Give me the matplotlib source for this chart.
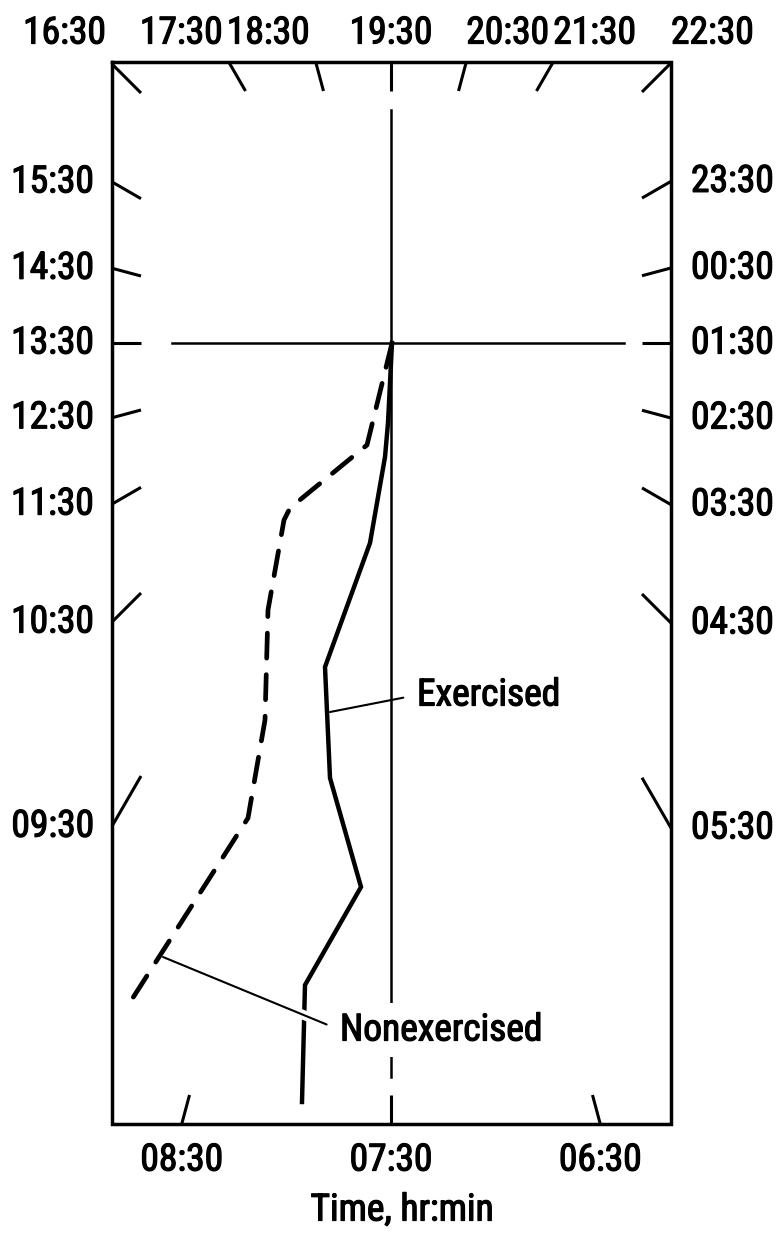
import matplotlib
matplotlib.use("Agg")
import matplotlib.pyplot as plt
import matplotlib.patheffects as pe
from matplotlib import font_manager as fm
import numpy as np

# one label per hour round the frame (24 h clock, 15 deg per hour)
hour_labels = ["00:30", "01:30", "02:30", "03:30", "04:30", "05:30",
               "06:30", "07:30", "08:30", "09:30", "10:30", "11:30",
               "12:30", "13:30", "14:30", "15:30", "16:30", "17:30",
               "18:30", "19:30", "20:30", "21:30", "22:30", "23:30"]

# curves: offset from the 13:30 / 19:30 crossing (x right, y up)
exercised_x = [1, -3, -6, -21, -66, -61, -30, -86, -89]
exercised_y = [0, -80, -114, -200, -324, -435, -544, -642, -759]
nonexercised_x = [1, -24, -101, -107, -123, -126, -143, -264]
nonexercised_y = [0, -102, -165, -177, -267, -377, -475, -664]

# frame (same units), relative to the crossing
L, R, T, B = -279, 280, 281, -781
INSET = 29


def _pick_font():
    names = {f.name for f in fm.fontManager.ttflist}
    for fam in ("Liberation Sans Narrow", "Roboto Condensed", "Open Sans Condensed",
                "Noto Sans Condensed", "DejaVu Sans Condensed"):
        if fam in names:
            return fm.FontProperties(family=fam, size=27)
    for f in fm.fontManager.ttflist:
        if f.stretch in ("condensed", "semi-condensed") and f.style == "normal" \
                and f.weight in (400, "normal", "regular") and "CJK" not in f.name:
            return fm.FontProperties(fname=f.fname, size=27)
    return fm.FontProperties(family="Liberation Sans", size=23)


def _hit(dx, dy, l, r, t, b):
    ts = []
    if dx < -1e-9:
        ts.append(l / dx)
    if dx > 1e-9:
        ts.append(r / dx)
    if dy > 1e-9:
        ts.append(t / dy)
    if dy < -1e-9:
        ts.append(b / dy)
    k = min(ts)
    return k * dx, k * dy


font = _pick_font()
heavy = [pe.withStroke(linewidth=0.9, foreground="black")]

fig = plt.figure(figsize=(7.8, 12.34), dpi=100)
ax = fig.add_axes([0, 0, 1, 1])
ax.set_xlim(-391, 389)
ax.set_ylim(-891, 343)
ax.axis("off")

# frame
ax.plot([L, R, R, L, L], [T, T, B, B, T], color="black", lw=2.5,
        solid_joinstyle="miter", zorder=3)

# hour ticks point to the centre, labels outside
for lab in hour_labels:
    h = int(lab[:2]) + int(lab[3:]) / 60
    th = np.radians((h - 7.5) * 15)
    dx, dy = -np.sin(th), -np.cos(th)
    ox, oy = _hit(dx, dy, L, R, T, B)
    ix, iy = _hit(dx, dy, L + INSET, R - INSET, T - INSET, B + INSET)
    ax.plot([ox, ix], [oy, iy], color="black", lw=2.2, solid_capstyle="butt", zorder=3)
    if oy >= T - 4:
        if ox < -3:
            t = ax.text(ox - 6, T + 29, lab, ha="right", va="center", fontproperties=font)
        elif ox > 3:
            t = ax.text(ox, T + 29, lab, ha="left", va="center", fontproperties=font)
        else:
            t = ax.text(ox, T + 29, lab, ha="center", va="center", fontproperties=font)
    elif oy <= B + 1:
        t = ax.text(ox, B - 36, lab, ha="center", va="center", fontproperties=font)
    elif ox < 0:
        t = ax.text(L - 18, oy, lab, ha="right", va="center", fontproperties=font)
    else:
        t = ax.text(R + 20, oy, lab, ha="left", va="center", fontproperties=font)
    t.set_path_effects(heavy)

# 07:30-19:30 and 13:30-01:30 lines
ax.plot([0, 0], [233, B + INSET + 18], color="black", lw=1.8, zorder=2)
ax.plot([-219, 233], [0, 0], color="black", lw=1.8, zorder=2)

ax.plot(exercised_x, exercised_y, color="black", lw=3.2,
        solid_joinstyle="miter", zorder=2)
ax.plot(nonexercised_x, nonexercised_y, color="black", lw=3.4,
        linestyle=(0, (5.3, 3.5)), dash_capstyle="round", zorder=5)

a1 = ax.annotate("Exercised", xy=(-61, -369), xytext=(26, -352),
                 ha="left", va="center", fontproperties=font,
                 arrowprops=dict(arrowstyle="-", lw=1.5, color="black",
                                 relpos=(0, 0.5), shrinkA=8, shrinkB=0),
                 zorder=4)
a1.set_path_effects(heavy)
a2 = ax.annotate("Nonexercised", xy=(-228, -614), xytext=(-51, -687),
                 ha="left", va="center", fontproperties=font,
                 bbox=dict(fc="white", ec="none", pad=6),
                 arrowprops=dict(arrowstyle="-", lw=1.5, color="black",
                                 relpos=(0, 0.5), shrinkA=4, shrinkB=0),
                 zorder=4)
a2.set_path_effects(heavy)
a2.arrow_patch.set_path_effects([pe.Stroke(linewidth=7, foreground="white"), pe.Normal()])

xl = ax.text(11, -867, "Time, hr:min", ha="center", va="center", fontproperties=font)
xl.set_path_effects(heavy)

fig.savefig("out.png", dpi=100)
